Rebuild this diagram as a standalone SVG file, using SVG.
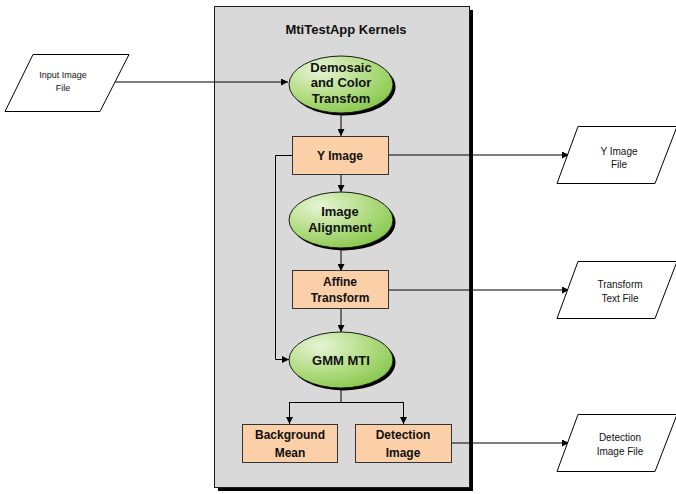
<svg xmlns="http://www.w3.org/2000/svg" width="676" height="494" viewBox="0 0 676 494">
  <defs>
    <radialGradient id="greenFill" cx="0.3" cy="0.25" r="0.85">
      <stop offset="0" stop-color="#e6f4d6"/>
      <stop offset="0.55" stop-color="#b2dc82"/>
      <stop offset="1" stop-color="#84c64a"/>
    </radialGradient>
    <marker id="arrow" viewBox="0 0 10 10" refX="10" refY="5" markerWidth="7" markerHeight="7" markerUnits="userSpaceOnUse" orient="auto">
      <path d="M0,0 L10,5 L0,10 Z" fill="#000"/>
    </marker>
    <style>
      .panel { fill: #d9d9d9; stroke: #1a1a1a; stroke-width: 1; }
      .shadow { fill: #000; }
      .box { fill: #fbcfa8; stroke: #333; stroke-width: 1; }
      .oval { fill: url(#greenFill); stroke: #1a1a1a; stroke-width: 1; }
      .file { fill: #fff; stroke: #000; stroke-width: 1; }
      .lbl { font-family: "Liberation Sans", Arial, sans-serif; font-weight: bold; font-size: 12px; fill: #111; text-anchor: middle; }
      .olbl { font-family: "Liberation Sans", Arial, sans-serif; font-weight: bold; font-size: 13px; fill: #111; text-anchor: middle; }
      .title { font-family: "Liberation Sans", Arial, sans-serif; font-weight: bold; font-size: 13px; fill: #111; text-anchor: middle; }
      .small { font-family: "Liberation Sans", Arial, sans-serif; font-size: 9px; fill: #111; text-anchor: middle; }
      .fsmall { font-family: "Liberation Sans", Arial, sans-serif; font-size: 10px; fill: #111; text-anchor: middle; }
      .conn { fill: none; stroke: #000; stroke-width: 1; }
    </style>
  </defs>

  <!-- kernel container -->
  <g id="kernels-panel">
    <rect class="shadow" x="218" y="10" width="255" height="481"/>
    <rect class="panel" x="214.5" y="6.5" width="255" height="481"/>
    <text class="title" x="346" y="34">MtiTestApp Kernels</text>
  </g>

  <!-- connectors -->
  <g id="connectors">
    <line class="conn" x1="115" y1="82" x2="288" y2="82" marker-end="url(#arrow)"/>
    <line class="conn" x1="341" y1="113" x2="341" y2="136" marker-end="url(#arrow)"/>
    <line class="conn" x1="341" y1="174" x2="341" y2="192" marker-end="url(#arrow)"/>
    <line class="conn" x1="341" y1="248" x2="341" y2="271" marker-end="url(#arrow)"/>
    <line class="conn" x1="341" y1="309" x2="341" y2="332" marker-end="url(#arrow)"/>
    <polyline class="conn" points="292,155.5 275.5,155.5 275.5,359.5 289,359.5" marker-end="url(#arrow)"/>
    <line class="conn" x1="388" y1="155" x2="569" y2="155" marker-end="url(#arrow)"/>
    <line class="conn" x1="388" y1="290" x2="569" y2="290" marker-end="url(#arrow)"/>
    <line class="conn" x1="341" y1="388" x2="341" y2="402.5"/>
    <line class="conn" x1="289.5" y1="402.5" x2="403.5" y2="402.5"/>
    <line class="conn" x1="289.5" y1="402" x2="289.5" y2="424" marker-end="url(#arrow)"/>
    <line class="conn" x1="403.5" y1="402" x2="403.5" y2="424" marker-end="url(#arrow)"/>
    <line class="conn" x1="451" y1="443" x2="569" y2="443" marker-end="url(#arrow)"/>
  </g>

  <!-- data files -->
  <g id="input-image-file">
    <polygon class="file" points="33,54.5 129,54.5 100,111.5 5,111.5"/>
    <text class="small" x="63" y="78">Input Image</text>
    <text class="small" x="63" y="91">File</text>
  </g>
  <g id="y-image-file">
    <polygon class="file" points="578,126.5 677,126.5 655,183.5 557,183.5"/>
    <text class="fsmall" x="619" y="154.5">Y Image</text>
    <text class="fsmall" x="619" y="167.5">File</text>
  </g>
  <g id="transform-text-file">
    <polygon class="file" points="578,261.5 677,261.5 655,318.5 557,318.5"/>
    <text class="fsmall" x="620" y="287.5">Transform</text>
    <text class="fsmall" x="620" y="302">Text File</text>
  </g>
  <g id="detection-image-file">
    <polygon class="file" points="578,414.5 677,414.5 655,471.5 557,471.5"/>
    <text class="fsmall" x="620" y="440.5">Detection</text>
    <text class="fsmall" x="620" y="455">Image File</text>
  </g>

  <!-- kernels -->
  <g id="demosaic">
    <ellipse class="shadow" cx="343.5" cy="87" rx="52" ry="28.5"/>
    <ellipse class="oval" cx="341" cy="84.5" rx="52" ry="28.5"/>
    <text class="olbl" x="341" y="71.5">Demosaic</text>
    <text class="olbl" x="341" y="87">and Color</text>
    <text class="olbl" x="341" y="102.5">Transfom</text>
  </g>
  <g id="y-image">
    <rect class="box" x="292.5" y="136.5" width="96" height="38"/>
    <text class="lbl" x="340" y="160">Y Image</text>
  </g>
  <g id="image-alignment">
    <ellipse class="shadow" cx="343.5" cy="222.5" rx="52" ry="28"/>
    <ellipse class="oval" cx="341" cy="220" rx="52" ry="28"/>
    <text class="olbl" x="340" y="216">Image</text>
    <text class="olbl" x="340" y="232">Alignment</text>
  </g>
  <g id="affine-transform">
    <rect class="box" x="292.5" y="270.5" width="96" height="38"/>
    <text class="lbl" x="340" y="285.5">Affine</text>
    <text class="lbl" x="340" y="302">Transform</text>
  </g>
  <g id="gmm-mti">
    <ellipse class="shadow" cx="343.5" cy="362.5" rx="52" ry="28"/>
    <ellipse class="oval" cx="341" cy="360" rx="52" ry="28"/>
    <text class="olbl" x="341" y="364.5">GMM MTI</text>
  </g>
  <g id="background-mean">
    <rect class="box" x="242.5" y="424.5" width="95" height="38"/>
    <text class="lbl" x="290" y="439">Background</text>
    <text class="lbl" x="290" y="456.5">Mean</text>
  </g>
  <g id="detection-image">
    <rect class="box" x="355.5" y="424.5" width="96" height="38"/>
    <text class="lbl" x="403" y="439">Detection</text>
    <text class="lbl" x="403" y="456.5">Image</text>
  </g>
</svg>
